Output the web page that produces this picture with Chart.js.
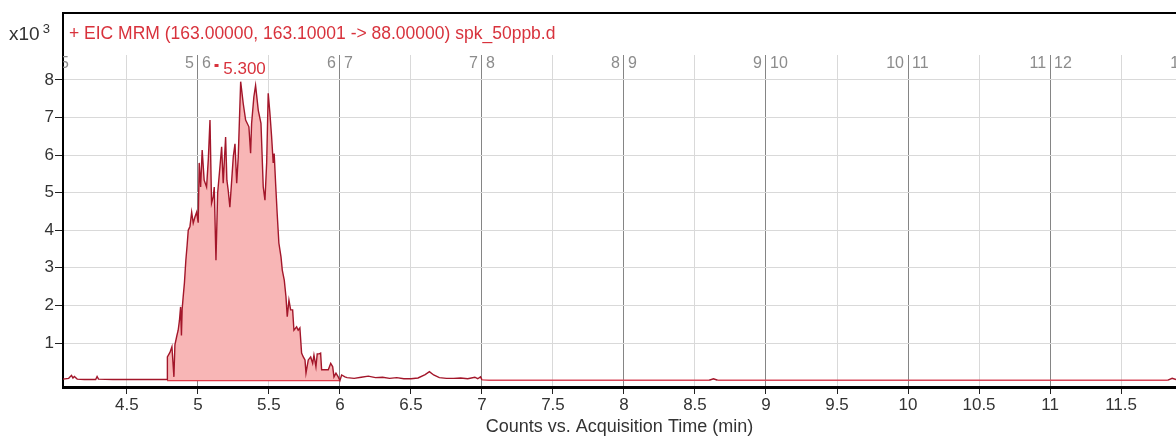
<!DOCTYPE html>
<html>
<head>
<meta charset="utf-8">
<script src="https://cdn.jsdelivr.net/npm/chart.js@4.4.1/dist/chart.umd.min.js"></script>
<style>
  html, body { margin: 0; padding: 0; background: #fff; }
  #wrap { width: 1176px; height: 436px; }
</style>
</head>
<body>
<div id="wrap"><canvas id="eic" width="1176" height="436"></canvas></div>
<script>
// labels
const traceTitle = '+ EIC MRM (163.00000, 163.10001 -> 88.00000) spk_50ppb.d';
const xAxisTitle = 'Counts vs. Acquisition Time (min)';
const yScaleText = 'x10';
const yScaleExp = '3';

// ticks and segment boundaries (minutes)
const xTicks = [4.5, 5, 5.5, 6, 6.5, 7, 7.5, 8, 8.5, 9, 9.5, 10, 10.5, 11, 11.5];
const yTicks = [1, 2, 3, 4, 5, 6, 7, 8];
const segmentBounds = [4, 5, 6, 7, 8, 9, 10, 11, 12];

// integrated peak
const peakRT = 5.300;
const integrationWindow = [4.783, 6.0];

// chromatogram, time in min, counts in x10^3
const times = [
  4.05, 4.09, 4.11, 4.12, 4.13, 4.15, 4.20, 4.28, 4.29, 4.30, 4.40, 4.55, 4.70, 4.783,
  4.785, 4.803, 4.817, 4.831, 4.838, 4.852, 4.861, 4.870, 4.878, 4.884, 4.889, 4.896,
  4.905, 4.915, 4.924, 4.932, 4.944, 4.956, 4.967, 4.979, 4.991, 5.002, 5.009, 5.019,
  5.030, 5.044, 5.061, 5.073, 5.085, 5.096, 5.108, 5.115, 5.127, 5.139, 5.155, 5.167,
  5.178, 5.195, 5.204, 5.213, 5.225, 5.249, 5.261, 5.273, 5.284, 5.301, 5.319, 5.336,
  5.359, 5.371, 5.378, 5.394, 5.406, 5.425, 5.444, 5.460, 5.472, 5.484, 5.495, 5.507,
  5.519, 5.530, 5.537, 5.547, 5.558, 5.570, 5.585, 5.594, 5.608, 5.620, 5.629, 5.641,
  5.653, 5.667, 5.676, 5.695, 5.706, 5.718, 5.730, 5.742, 5.754, 5.761, 5.777, 5.794,
  5.808, 5.817, 5.831, 5.840, 5.854, 5.864, 5.871, 5.882, 5.901, 5.918, 5.935, 5.949,
  5.958, 5.972, 5.988, 6.000, 6.012, 6.035, 6.05, 6.10, 6.15, 6.20, 6.25, 6.30, 6.35,
  6.40, 6.45, 6.50, 6.55, 6.60, 6.63, 6.66, 6.70, 6.75, 6.80, 6.85, 6.90, 6.95, 6.97,
  6.99, 7.00, 7.05, 8.00, 8.60, 8.63, 8.66, 9.50, 10.50, 11.50, 11.83, 11.86, 11.887
];
const counts = [
  0.04, 0.06, 0.14, 0.07, 0.11, 0.04, 0.03, 0.03, 0.11, 0.04, 0.03, 0.03, 0.03, 0.03,
  0.63, 0.75, 0.90, 0.10, 0.95, 1.20, 1.34, 1.60, 1.96, 1.20, 1.90, 2.22,
  2.60, 3.20, 3.60, 4.00, 4.10, 4.48, 4.19, 4.35, 4.48, 4.20, 5.79, 5.15,
  6.13, 5.33, 5.15, 5.87, 6.93, 4.72, 4.89, 5.15, 3.20, 4.99, 5.68, 6.22,
  5.25, 6.48, 5.33, 5.07, 4.61, 5.95, 6.30, 5.25, 5.95, 7.95, 7.37, 6.93,
  6.75, 6.05, 6.84, 7.55, 7.85, 7.19, 6.84, 5.15, 4.80, 5.79, 7.64, 7.11,
  6.48, 5.79, 6.04, 5.25, 4.45, 3.66, 3.29, 2.94, 2.67, 2.23, 1.70, 2.14,
  1.88, 1.88, 1.34, 1.43, 1.34, 1.40, 0.73, 0.63, 0.55, 0.20, 0.55, 0.63,
  0.46, 0.68, 0.37, 0.71, 0.71, 0.73, 0.29, 0.29, 0.29, 0.29, 0.46, 0.37,
  0.10, 0.20, 0.10, 0.00, 0.15, 0.10, 0.08, 0.06, 0.09, 0.12, 0.08, 0.09, 0.06,
  0.08, 0.05, 0.05, 0.07, 0.16, 0.24, 0.15, 0.08, 0.06, 0.06, 0.07, 0.05, 0.09, 0.05,
  0.10, 0.02, 0.01, 0.01, 0.01, 0.05, 0.01, 0.01, 0.01, 0.01, 0.01, 0.06, 0.03
];

const FONT = '"Liberation Sans", Arial, sans-serif';
const traceColor = '#a3162a';
const flatColor = '#d8485a';
const fillColor = '#f8b6b6';

const trace = times.map((t, i) => ({ x: t, y: counts[i] }));
const peakArea = trace.filter(p => p.x >= integrationWindow[0] && p.x <= integrationWindow[1]);
const baseline = integrationWindow.map(t => ({ x: t, y: 0 }));

// draws frame, title, segment labels and peak label
const decorations = {
  id: 'decorations',
  beforeDatasetsDraw(chart) {
    const { ctx, chartArea: a, scales: { x } } = chart;
    ctx.save();
    ctx.beginPath();
    ctx.rect(a.left, a.top, a.right - a.left, a.bottom - a.top);
    ctx.clip();
    ctx.font = '16px ' + FONT;
    ctx.fillStyle = '#8c8c8c';
    ctx.textBaseline = 'middle';
    segmentBounds.forEach(b => {
      const px = x.getPixelForValue(b);
      ctx.textAlign = 'right';
      ctx.fillText(String(b), px - 4, 64);
      ctx.textAlign = 'left';
      ctx.fillText(String(b + 1), px + 4, 64);
    });
    ctx.restore();
  },
  afterDraw(chart) {
    const { ctx, chartArea: a, scales: { x } } = chart;
    ctx.save();
    ctx.strokeStyle = '#000';
    ctx.lineWidth = 2;
    ctx.beginPath();
    ctx.moveTo(a.left, a.top);
    ctx.lineTo(a.left, 13);
    ctx.lineTo(a.right, 13);
    ctx.stroke();

    ctx.textBaseline = 'middle';
    ctx.fillStyle = '#333';
    ctx.textAlign = 'left';
    ctx.font = '19px ' + FONT;
    ctx.fillText(yScaleText, 9, 35);
    const w = ctx.measureText(yScaleText).width;
    ctx.font = '13px ' + FONT;
    ctx.fillText(yScaleExp, 9 + w + 3, 29);

    ctx.fillStyle = '#d8323c';
    ctx.font = '17.5px ' + FONT;
    ctx.fillText(traceTitle, a.left + 6, 34);

    // retention time label
    const px = x.getPixelForValue(peakRT);
    ctx.fillRect(px - 26, 64, 4, 3);
    ctx.textAlign = 'center';
    ctx.font = '17px ' + FONT;
    ctx.fillText(peakRT.toFixed(3), px + 4, 69);
    ctx.restore();
  }
};

new Chart(document.getElementById('eic'), {
  type: 'line',
  data: {
    datasets: [
      {
        data: trace,
        borderColor: traceColor,
        borderWidth: 1.4,
        pointRadius: 0,
        tension: 0,
        fill: false,
        segment: {
          borderColor: c => (c.p0.parsed.y <= 0.02 && c.p1.parsed.y <= 0.02) ? flatColor : traceColor
        }
      },
      {
        data: baseline,
        borderColor: '#e03a48',
        borderWidth: 1.4,
        pointRadius: 0,
        fill: false
      },
      {
        data: peakArea,
        borderWidth: 0,
        borderColor: 'rgba(0,0,0,0)',
        backgroundColor: fillColor,
        pointRadius: 0,
        tension: 0,
        fill: 'origin'
      }
    ]
  },
  options: {
    responsive: false,
    animation: false,
    layout: { padding: { top: 55, left: 0, right: 0, bottom: 0 } },
    plugins: {
      legend: { display: false },
      tooltip: { enabled: false },
      title: { display: false }
    },
    scales: {
      x: {
        type: 'linear',
        min: 4.05,
        max: 11.887,
        afterFit: s => { s.height = 49; },
        afterBuildTicks: s => { s.ticks = xTicks.map(v => ({ value: v })); },
        ticks: {
          callback: v => String(v),
          color: '#333',
          font: { family: FONT, size: 17 },
          padding: 1,
          maxRotation: 0,
          autoSkip: false
        },
        grid: {
          color: c => Number.isInteger(c.tick && c.tick.value) ? '#858585' : '#d9d9d9',
          tickColor: '#222',
          tickLength: 7,
          lineWidth: 1
        },
        border: { color: '#000', width: 3 },
        title: {
          display: true,
          text: xAxisTitle,
          color: '#333',
          font: { family: FONT, size: 18, lineHeight: 1 },
          padding: 0
        }
      },
      y: {
        min: -0.17,
        max: 8.66,
        afterFit: s => { s.width = 63; },
        afterBuildTicks: s => { s.ticks = yTicks.map(v => ({ value: v })); },
        ticks: {
          callback: v => String(v),
          color: '#333',
          font: { family: FONT, size: 17 },
          padding: 1
        },
        grid: {
          color: '#d9d9d9',
          tickColor: '#222',
          tickLength: 8,
          lineWidth: 1
        },
        border: { color: '#000', width: 2 }
      }
    }
  },
  plugins: [decorations]
});
</script>
</body>
</html>
